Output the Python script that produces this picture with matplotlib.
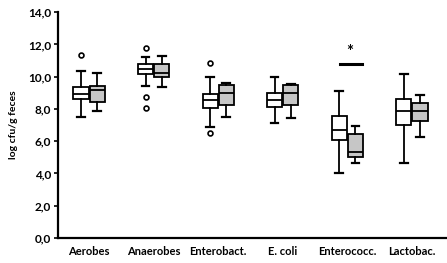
import matplotlib
matplotlib.use("Agg")
import matplotlib.pyplot as plt

CATEGORIES = ["Aerobes", "Anaerobes", "Enterobact.", "E. coli", "Enterococc.", "Lactobac."]

# five-number summaries per group: (whisker low, q1, median, q3, whisker high)
WHITE_STATS = [
    (7.5, 8.6, 8.9, 9.33, 10.35),
    (9.4, 10.15, 10.45, 10.8, 11.2),
    (6.9, 8.07, 8.55, 8.92, 9.97),
    (7.15, 8.14, 8.55, 9.0, 9.97),
    (4.0, 6.07, 6.69, 7.55, 9.14),
    (4.66, 7.0, 7.9, 8.6, 10.18),
]
WHITE_FLIERS = [[11.33], [11.75, 8.75, 8.03], [10.87, 6.48], [], [], []]

GRAY_STATS = [
    (7.9, 8.45, 9.15, 9.45, 10.2),
    (9.33, 9.97, 10.24, 10.8, 11.3),
    (7.47, 8.24, 9.0, 9.47, 9.58),
    (7.41, 8.24, 9.0, 9.47, 9.55),
    (4.66, 5.04, 5.35, 6.42, 6.96),
    (6.25, 7.24, 7.86, 8.34, 8.85),
]
GRAY_FLIERS = [[], [], [], [], [], []]

YTICKS = [0, 2, 4, 6, 8, 10, 12, 14]
YTICK_LABELS = ["0,0", "2,0", "4,0", "6,0", "8,0", "10,0", "12,0", "14,0"]

SIG_GROUP = 4
SIG_LEVEL = 10.8


def to_bxp(stats, fliers):
    out = []
    for (lo, q1, med, q3, hi), fl in zip(stats, fliers):
        out.append({"whislo": lo, "q1": q1, "med": med, "q3": q3, "whishi": hi, "fliers": fl})
    return out


plt.rcParams["font.family"] = ["Lato", "DejaVu Sans"]
fig = plt.figure(figsize=(4.47, 2.63), dpi=100)
ax = fig.add_axes([0.13, 0.095, 0.868, 0.859])

pos = list(range(len(CATEGORIES)))
off = 0.125
width = 0.235

common = dict(
    widths=width,
    patch_artist=True,
    showfliers=True,
    medianprops=dict(color="black", linewidth=1.3),
    whiskerprops=dict(color="black", linewidth=1.3),
    capprops=dict(color="black", linewidth=1.6),
    flierprops=dict(marker="o", markerfacecolor="white", markeredgecolor="black",
                    markersize=3.5, markeredgewidth=1.2),
)
ax.bxp(to_bxp(WHITE_STATS, WHITE_FLIERS), positions=[p - off for p in pos],
       boxprops=dict(facecolor="white", edgecolor="black", linewidth=1.3),
       **common)
ax.bxp(to_bxp(GRAY_STATS, GRAY_FLIERS), positions=[p + off for p in pos],
       boxprops=dict(facecolor="#c6c6c6", edgecolor="black", linewidth=1.3),
       **common)

# significance marker
ax.plot([SIG_GROUP - 0.12, SIG_GROUP + 0.22], [SIG_LEVEL, SIG_LEVEL], color="black", linewidth=2.2)
ax.text(SIG_GROUP + 0.03, SIG_LEVEL + 0.25, "*", ha="center", va="bottom",
        fontsize=12, fontweight="bold")

ax.set_xlim(-0.48, 5.53)
ax.set_ylim(0, 14)
ax.set_xticks(pos)
ax.set_xticklabels(CATEGORIES, fontsize=8, fontweight="bold")
ax.set_yticks(YTICKS)
ax.set_yticklabels(YTICK_LABELS, fontsize=8.5, fontweight="bold")
ax.tick_params(axis="x", length=0, pad=6)
ax.tick_params(axis="y", length=3, width=1.2, direction="out", pad=2)
ax.set_ylabel("log cfu/g feces", fontsize=7.5, fontweight="bold", labelpad=7)

for s in ["top", "right"]:
    ax.spines[s].set_visible(False)
for s in ["left", "bottom"]:
    ax.spines[s].set_linewidth(1.6)

fig.savefig("out.png", dpi=100)
